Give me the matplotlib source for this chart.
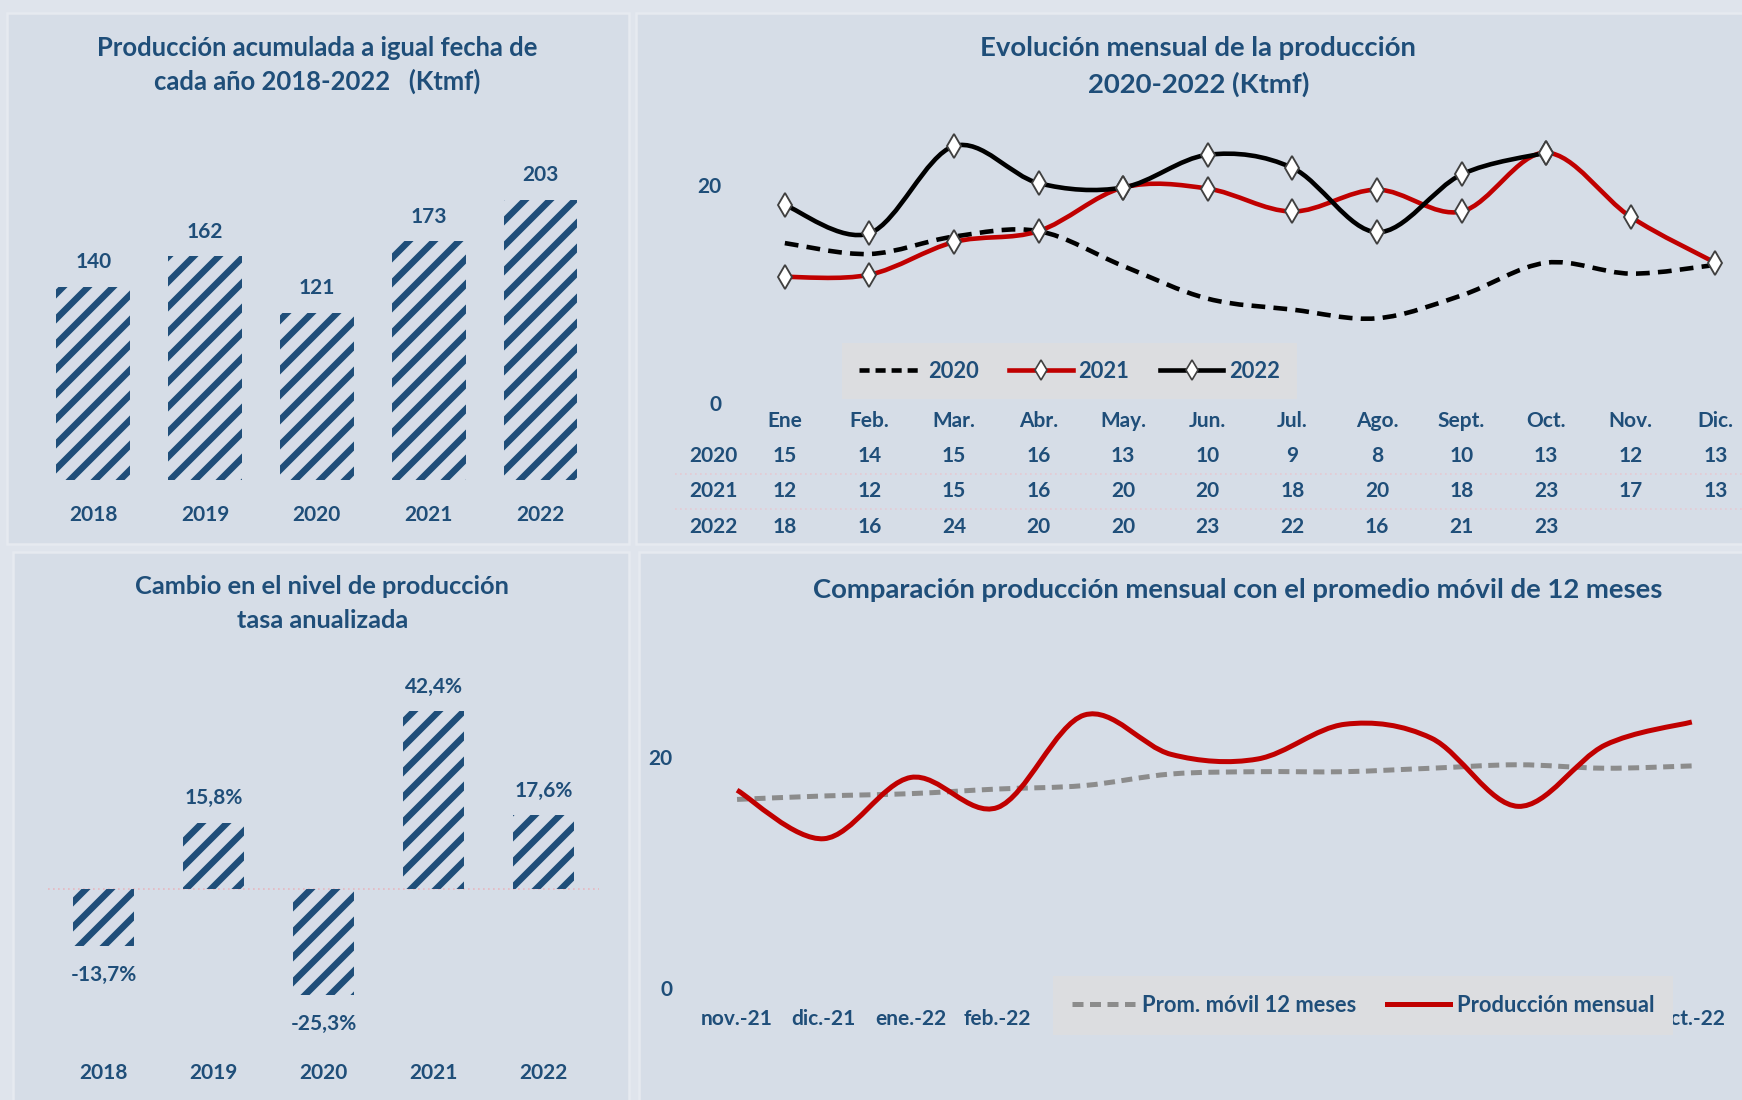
import numpy as np
import matplotlib
matplotlib.use("Agg")
import matplotlib.pyplot as plt
from matplotlib.path import Path
from matplotlib.patches import PathPatch, Rectangle
from matplotlib.lines import Line2D

plt.rcParams['font.family'] = ['Lato', 'DejaVu Sans']
plt.rcParams['font.weight'] = 'bold'
plt.rcParams['hatch.linewidth'] = 3.1

# ---- data ----
years = ['2018', '2019', '2020', '2021', '2022']
acumulada = [140, 162, 121, 173, 203]
tasa = [-13.7, 15.8, -25.3, 42.4, 17.6]

meses = ['Ene', 'Feb.', 'Mar.', 'Abr.', 'May.', 'Jun.', 'Jul.', 'Ago.', 'Sept.', 'Oct.', 'Nov.', 'Dic.']
prod_2020 = [14.7, 13.7, 15.3, 15.8, 12.6, 9.6, 8.6, 7.8, 9.9, 12.9, 11.9, 12.7]
prod_2021 = [11.6, 11.8, 14.8, 15.8, 19.8, 19.7, 17.6, 19.6, 17.6, 23.0, 17.1, 12.9]
prod_2022 = [18.2, 15.6, 23.6, 20.2, 19.8, 22.8, 21.6, 15.7, 21.0, 23.0]

meses_movil = ['nov.-21', 'dic.-21', 'ene.-22', 'feb.-22', 'mar.-22', 'abr.-22',
               'may.-22', 'jun.-22', 'jul.-22', 'ago.-22', 'sept.-22', 'oct.-22']
prod_mensual = [17.1, 12.9, 18.2, 15.6, 23.6, 20.2, 19.8, 22.8, 21.6, 15.7, 21.0, 23.0]
prom_movil = [16.3, 16.6, 16.8, 17.2, 17.5, 18.5, 18.7, 18.7, 19.0, 19.3, 19.0, 19.2]

BLUE = '#1f4e79'
W, H = 1568.0, 990.0   # layout measured on the shrunk reference


def fx(x):
    return x / W


def fy(y):
    return 1 - y / H


def smooth_path(x, y):
    # Excel-like smoothed line (Catmull-Rom as cubic Bezier)
    pts = np.column_stack([np.asarray(x, float), np.asarray(y, float)])
    ext = np.vstack([pts[0], pts, pts[-1]])
    verts = [pts[0]]
    codes = [Path.MOVETO]
    for i in range(len(pts) - 1):
        p0, p1, p2, p3 = ext[i], ext[i + 1], ext[i + 2], ext[i + 3]
        verts += [p1 + (p2 - p0) / 6, p2 - (p3 - p1) / 6, p2]
        codes += [Path.CURVE4] * 3
    return Path(verts, codes)


def smooth_line(ax, x, y, **kw):
    patch = PathPatch(smooth_path(x, y), fill=False, transform=ax.transData, **kw)
    ax.add_patch(patch)
    return patch


fig = plt.figure(figsize=(1743 / 150, 1100 / 150), dpi=150)
fig.patch.set_facecolor('#dfe4ec')

# panels
for (x0, y0, x1, y1) in [(6, 12, 566, 490), (572, 12, 1570, 490),
                         (12, 497, 566, 992), (575, 497, 1570, 992)]:
    fig.add_artist(Rectangle((fx(x0), fy(y1)), fx(x1 - x0), (y1 - y0) / H,
                             transform=fig.transFigure, facecolor='#d6dde7',
                             edgecolor='#e6eaf0', linewidth=1.2, zorder=0))

# ---- top-left: produccion acumulada ----
ax1 = fig.add_axes([fx(33.5), fy(432), fx(536.5 - 33.5), (432 - 109) / H])
ax1.set_facecolor('none')
xs = np.arange(len(years))
ax1.bar(xs, acumulada, width=0.66, facecolor='none', edgecolor=BLUE,
        linewidth=0, hatch='//')
for x, v in zip(xs, acumulada):
    ax1.annotate(f'{v}', (x, v), xytext=(0, 7), textcoords='offset points',
                 ha='center', va='bottom', color=BLUE, fontsize=10)
ax1.set_xlim(-0.5, 4.5)
ax1.set_ylim(0, 260)
ax1.set_xticks(xs, years, color=BLUE, fontsize=10)
ax1.set_yticks([])
ax1.tick_params(axis='x', length=0, pad=12)
for s in ax1.spines.values():
    s.set_visible(False)
fig.text(fx(285), fy(43), 'Producción acumulada a igual fecha de', ha='center',
         va='center', color=BLUE, fontsize=12.3)
fig.text(fx(285), fy(73), 'cada año 2018-2022   (Ktmf)', ha='center',
         va='center', color=BLUE, fontsize=12.3)

# ---- bottom-left: tasa anualizada ----
ax2 = fig.add_axes([fx(43.5), fy(940), fx(538.5 - 43.5), (940 - 590) / H])
ax2.set_facecolor('none')
ax2.bar(xs, tasa, width=0.56, facecolor='none', edgecolor=BLUE,
        linewidth=0, hatch='//')
ax2.axhline(0, color='#e7b7bf', linewidth=0.8, linestyle=(0, (1, 2)), zorder=0)
for x, v in zip(xs, tasa):
    lab = f'{v:.1f}%'.replace('.', ',')
    if v >= 0:
        ax2.annotate(lab, (x, v), xytext=(0, 7), textcoords='offset points',
                     ha='center', va='bottom', color=BLUE, fontsize=10)
    else:
        ax2.annotate(lab, (x, v), xytext=(0, -9), textcoords='offset points',
                     ha='center', va='top', color=BLUE, fontsize=10)
ax2.set_xlim(-0.5, 4.5)
ax2.set_ylim(-37.1, 55.7)
ax2.set_xticks(xs, years, color=BLUE, fontsize=10)
ax2.set_yticks([])
ax2.tick_params(axis='x', length=0, pad=9)
for s in ax2.spines.values():
    s.set_visible(False)
fig.text(fx(290), fy(528), 'Cambio en el nivel de producción', ha='center',
         va='center', color=BLUE, fontsize=12.2)
fig.text(fx(290), fy(558), 'tasa anualizada', ha='center',
         va='center', color=BLUE, fontsize=12.2)

# ---- top-right: evolucion mensual ----
ax3 = fig.add_axes([fx(668), fy(363), 1 - fx(668), (363 - 105) / H])
ax3.set_facecolor('none')
xm = np.arange(len(meses))
smooth_line(ax3, xm, prod_2020, edgecolor='black', linewidth=2.2,
            linestyle=(0, (3, 1.8)))
smooth_line(ax3, xm, prod_2021, edgecolor='#c00000', linewidth=2.2)
smooth_line(ax3, xm[:len(prod_2022)], prod_2022, edgecolor='black', linewidth=2.2)
ax3.plot(xm, prod_2021, linestyle='none', marker='d', markersize=8,
         markerfacecolor='white', markeredgecolor='#404040', markeredgewidth=0.9)
ax3.plot(xm[:len(prod_2022)], prod_2022, linestyle='none', marker='d', markersize=8,
         markerfacecolor='white', markeredgecolor='#404040', markeredgewidth=0.9)
ax3.set_xlim(-0.5, (1568 - 706) / 76.1)
ax3.set_ylim(0, 26.3)
ax3.set_xticks([])
ax3.set_yticks([0, 20], ['0', '20'], color=BLUE, fontsize=10)
ax3.tick_params(axis='y', length=0, pad=10)
for s in ax3.spines.values():
    s.set_visible(False)

# data table under the chart
row_y = {'head': -1.63, '2020': -4.8, '2021': -8.06, '2022': -11.3}
for i, m in enumerate(meses):
    ax3.text(i, row_y['head'], m, ha='center', va='center', color=BLUE,
             fontsize=10, clip_on=False)
for name, serie in [('2020', prod_2020), ('2021', prod_2021), ('2022', prod_2022)]:
    ax3.text(-0.84, row_y[name], name, ha='center', va='center', color=BLUE,
             fontsize=10, clip_on=False)
    for i, v in enumerate(serie):
        ax3.text(i, row_y[name], f'{v:.0f}', ha='center', va='center',
                 color=BLUE, fontsize=10, clip_on=False)
for yl in [-6.45, -9.7]:
    ax3.plot([-1.3, 11.5], [yl, yl], color='#e6c9d2', linewidth=0.8,
             linestyle=(0, (1, 2)), clip_on=False)

h2020 = Line2D([], [], color='black', linewidth=2.2, linestyle=(0, (2.2, 1.3)))
h2021 = Line2D([], [], color='#c00000', linewidth=2.2, marker='d', markersize=7,
               markerfacecolor='white', markeredgecolor='#404040', markeredgewidth=0.8)
h2022 = Line2D([], [], color='black', linewidth=2.2, marker='d', markersize=7,
               markerfacecolor='white', markeredgecolor='#404040', markeredgewidth=0.8)
leg = ax3.legend([h2020, h2021, h2022], ['2020', '2021', '2022'], loc='center',
                 bbox_to_anchor=((962 - 668) / 900, (363 - 334) / 258), ncol=3,
                 frameon=True, fancybox=False, facecolor='#dcdde0', edgecolor='none',
                 framealpha=1, handlelength=2.9, handletextpad=0.25,
                 columnspacing=1.4, borderpad=0.8, prop={'size': 10.5, 'weight': 'bold'})
for t in leg.get_texts():
    t.set_color(BLUE)

fig.text(fx(1078), fy(43), 'Evolución mensual de la producción', ha='center',
         va='center', color=BLUE, fontsize=13.2)
fig.text(fx(1078), fy(76), '2020-2022 (Ktmf)', ha='center',
         va='center', color=BLUE, fontsize=13.2)

# ---- bottom-right: produccion vs promedio movil ----
ax4 = fig.add_axes([fx(624), fy(889), fx(1561 - 624), (889 - 577) / H])
ax4.set_facecolor('none')
xv = np.arange(len(meses_movil))
smooth_line(ax4, xv, prom_movil, edgecolor='#8c8c8c', linewidth=2.4,
            linestyle=(0, (2.2, 1.3)))
smooth_line(ax4, xv, prod_mensual, edgecolor='#c00000', linewidth=2.4)
ax4.set_xlim(-0.5, 11.5)
ax4.set_ylim(0, 30)
# labels from mar.-22 to sept.-22 sit under the legend box in the reference
shown = [m if (i < 4 or i == len(meses_movil) - 1) else '' for i, m in enumerate(meses_movil)]
ax4.set_xticks(xv, shown, color=BLUE, fontsize=10)
ax4.set_yticks([0, 20], ['0', '20'], color=BLUE, fontsize=10)
ax4.tick_params(axis='x', length=0, pad=10)
ax4.tick_params(axis='y', length=0, pad=10)
for s in ax4.spines.values():
    s.set_visible(False)
hm = Line2D([], [], color='#8c8c8c', linewidth=2.4, linestyle=(0, (2.2, 1.3)))
hp = Line2D([], [], color='#c00000', linewidth=2.4)
leg2 = ax4.legend([hm, hp], ['Prom. móvil 12 meses', 'Producción mensual'],
                  loc='center', bbox_to_anchor=((1226 - 624) / 937, (889 - 905) / 312),
                  ncol=2, frameon=True, fancybox=False, facecolor='#dcdde0',
                  edgecolor='none', framealpha=1, handlelength=2.9,
                  handletextpad=0.3, columnspacing=1.4, borderpad=0.85,
                  prop={'size': 10.5, 'weight': 'bold'})
leg2.set_zorder(10)
for t in leg2.get_texts():
    t.set_color(BLUE)
fig.text(fx(1113), fy(531), 'Comparación producción mensual con el promedio móvil de 12 meses',
         ha='center', va='center', color=BLUE, fontsize=13.2)

fig.savefig('out.png', dpi=150, facecolor=fig.get_facecolor())
